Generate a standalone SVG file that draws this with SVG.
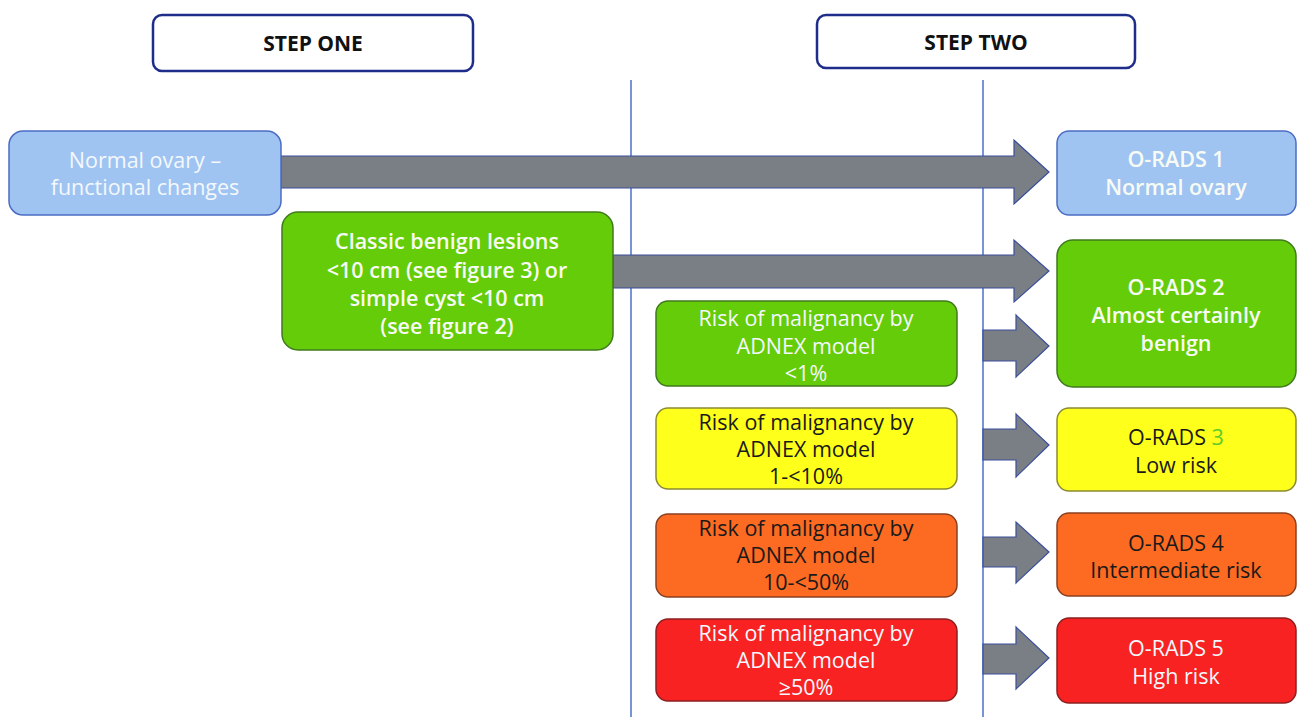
<svg xmlns="http://www.w3.org/2000/svg" width="1298" height="717" viewBox="0 0 1298 717">
<style>
text{font-family:"Open Sans","Liberation Sans",sans-serif;text-anchor:middle;font-size:21.5px}
.hdr{fill:#fff;stroke:#1f2d8a;stroke-width:2.5}
.ht{font-weight:bold;font-size:21px;fill:#111}
.box{stroke-width:1.5}
.blue{fill:#9fc4f2;stroke:#4a6cc4}
.green{fill:#64cc08;stroke:#3f7a1e}
.yellow{fill:#ffff1c;stroke:#8a8a30}
.orange{fill:#fd6a22;stroke:#8a4020}
.red{fill:#f82222;stroke:#8a2020}
.w{fill:#f4f8fc}
.wb{fill:#f8fbf4;font-weight:600}
.d{fill:#1a1a1a}
.vl{stroke:#4a70c8;stroke-width:1.5;fill:none}
.arr{fill:#7a7f86;stroke:#3a4f9a;stroke-width:1.2}
</style>
<rect width="1298" height="717" fill="#fff"/>
<g id="connectors">
<line class="vl" x1="631" y1="80" x2="631" y2="717"/>
<line class="vl" x1="983" y1="80" x2="983" y2="717"/>
<path class="arr" d="M281,156 H1014 V140 L1049,172 L1014,204 V188 H281 Z"/>
<path class="arr" d="M613,255 H1014 V240 L1049,271 L1014,302 V288 H613 Z"/>
<path class="arr" d="M983,330 H1016 V315 L1049,346 L1016,377 V361 H983 Z"/>
<path class="arr" d="M983,429 H1016 V414 L1049,445 L1016,477 V460 H983 Z"/>
<path class="arr" d="M983,537 H1016 V522 L1049,552 L1016,583 V567 H983 Z"/>
<path class="arr" d="M983,644 H1016 V627 L1049,658 L1016,689 V674 H983 Z"/>
</g>
<g id="step-one">
<rect class="hdr" x="153" y="15" width="320" height="56" rx="9"/>
<text class="ht" x="313" y="51">STEP ONE</text>
</g>
<g id="step-two">
<rect class="hdr" x="817" y="15" width="318" height="53" rx="9"/>
<text class="ht" x="976" y="50">STEP TWO</text>
</g>
<g id="normal-ovary">
<rect class="box blue" x="9" y="131" width="272" height="84" rx="14"/>
<text class="w" x="145" y="168">Normal ovary –</text>
<text class="w" x="145" y="195">functional changes</text>
</g>
<g id="classic-benign">
<rect class="box green" x="282" y="212" width="331" height="138" rx="16"/>
<text class="wb" x="447" y="249">Classic benign lesions</text>
<text class="wb" x="447" y="278">&lt;10 cm (see figure 3) or</text>
<text class="wb" x="447" y="306">simple cyst &lt;10 cm</text>
<text class="wb" x="447" y="334">(see figure 2)</text>
</g>
<g id="risk-low">
<rect class="box green" x="656" y="301" width="301" height="85" rx="12"/>
<text class="w" x="806" y="326">Risk of malignancy by</text>
<text class="w" x="806" y="354">ADNEX model</text>
<text class="w" x="806" y="381">&lt;1%</text>
</g>
<g id="risk-1-10">
<rect class="box yellow" x="656" y="408" width="301" height="81" rx="12"/>
<text class="d" x="806" y="430">Risk of malignancy by</text>
<text class="d" x="806" y="457">ADNEX model</text>
<text class="d" x="806" y="484">1-&lt;10%</text>
</g>
<g id="risk-10-50">
<rect class="box orange" x="656" y="514" width="301" height="83" rx="12"/>
<text class="d" x="806" y="536">Risk of malignancy by</text>
<text class="d" x="806" y="563">ADNEX model</text>
<text class="d" x="806" y="590">10-&lt;50%</text>
</g>
<g id="risk-50">
<rect class="box red" x="656" y="619" width="301" height="82" rx="12"/>
<text class="w" x="806" y="641">Risk of malignancy by</text>
<text class="w" x="806" y="668">ADNEX model</text>
<text class="w" x="806" y="695">≥50%</text>
</g>
<g id="orads-1">
<rect class="box blue" x="1057" y="131" width="239" height="84" rx="12"/>
<text class="wb" x="1176" y="167">O-RADS 1</text>
<text class="wb" x="1176" y="195">Normal ovary</text>
</g>
<g id="orads-2">
<rect class="box green" x="1057" y="240" width="239" height="147" rx="16"/>
<text class="wb" x="1176" y="295">O-RADS 2</text>
<text class="wb" x="1176" y="323">Almost certainly</text>
<text class="wb" x="1176" y="351">benign</text>
</g>
<g id="orads-3">
<rect class="box yellow" x="1057" y="408" width="239" height="83" rx="12"/>
<text class="d" x="1176" y="445">O-RADS <tspan fill="#5ccc2a">3</tspan></text>
<text class="d" x="1176" y="473">Low risk</text>
</g>
<g id="orads-4">
<rect class="box orange" x="1057" y="513" width="239" height="83" rx="12"/>
<text class="d" x="1176" y="551">O-RADS 4</text>
<text class="d" x="1176" y="578">Intermediate risk</text>
</g>
<g id="orads-5">
<rect class="box red" x="1057" y="618" width="239" height="85" rx="12"/>
<text class="w" x="1176" y="656">O-RADS 5</text>
<text class="w" x="1176" y="684">High risk</text>
</g>
</svg>
